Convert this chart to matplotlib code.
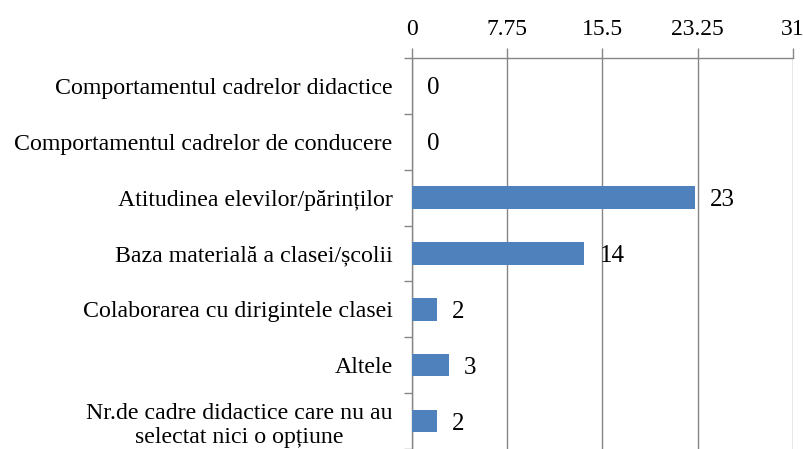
import matplotlib.pyplot as plt
import numpy as np

plt.rcParams['font.family'] = ['Liberation Serif', 'DejaVu Serif']

categories = [
    "Comportamentul cadrelor didactice",
    "Comportamentul cadrelor de conducere",
    "Atitudinea elevilor/părinților",
    "Baza materială a clasei/școlii",
    "Colaborarea cu dirigintele clasei",
    "Altele",
    "Nr.de cadre didactice care nu au\nselectat nici o opțiune",
]
values = [0, 0, 23, 14, 2, 3, 2]
xticks = [0, 7.75, 15.5, 23.25, 31]
xtick_labels = ["0", "7.75", "15.5", "23.25", "31"]

fig = plt.figure(figsize=(8.04, 4.49), dpi=100)
ax = fig.add_axes([412 / 804, 0, 381 / 804, (449 - 58) / 449])

y = np.arange(len(categories))
ax.barh(y, values, height=0.4, color="#4F81BD", linewidth=0, zorder=3)

# etichete valori
for yi, v in zip(y, values):
    ax.text(v + 1.25, yi, str(v), va="center_baseline", ha="left", fontsize=18)

ax.set_xlim(0, 31)
ax.set_ylim(len(categories) - 0.5, -0.5)
ax.xaxis.tick_top()
ax.set_xticks(xticks)
ax.set_xticklabels(xtick_labels, fontsize=17)
ax.tick_params(axis="x", direction="out", length=7, color="#868686", width=1, pad=6)
ax.grid(axis="x", color="#868686", linewidth=1, zorder=0)

ax.set_yticks(y)
ax.set_yticklabels(categories, fontsize=17.2, ha="right", multialignment="center")
ax.tick_params(axis="y", length=0, pad=14)
ax.set_yticks(np.arange(len(categories) + 1) - 0.5, minor=True)
ax.tick_params(axis="y", which="minor", length=6, color="#868686", width=1, direction="out")

for side in ["bottom", "right"]:
    ax.spines[side].set_visible(False)
for side in ["top", "left"]:
    ax.spines[side].set_color("#868686")
    ax.spines[side].set_linewidth(1)

fig.savefig("out.png", dpi=100)
